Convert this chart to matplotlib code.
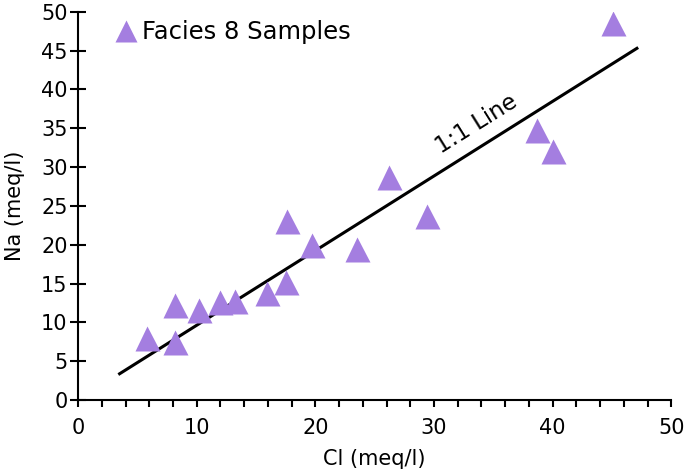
import matplotlib.pyplot as plt
from matplotlib.ticker import MultipleLocator

# Facies 8 samples: Cl vs Na (meq/l)
cl = [5.8, 8.2, 8.2, 10.2, 12.0, 13.2, 15.9, 17.5, 17.6, 19.7, 23.5, 26.2, 29.4, 38.7, 40.0, 45.1]
na = [8.0, 7.5, 12.2, 11.6, 12.6, 12.8, 13.8, 15.2, 23.1, 20.0, 19.5, 28.7, 23.7, 34.8, 32.1, 48.6]

# 1:1 line end points as drawn
line_x = [3.5, 47.1]
line_y = [3.4, 45.3]

purple = '#a47ee0'

fig = plt.figure(figsize=(6.85, 4.73), dpi=100)
ax = fig.add_axes([0.114, 0.154, 0.866, 0.821])

ax.plot(line_x, line_y, color='black', lw=2.2, zorder=2)
ax.plot(cl, na, '^', color=purple, ms=18, mec='none', zorder=3, label='Facies 8 Samples')

ax.text(33.6, 35.6, '1:1 Line', fontsize=16.5, rotation=32, ha='center', va='center')

ax.set_xlim(0, 50)
ax.set_ylim(0, 50)
ax.xaxis.set_major_locator(MultipleLocator(10))
ax.xaxis.set_minor_locator(MultipleLocator(2))
ax.yaxis.set_major_locator(MultipleLocator(5))

for s in ['top', 'right']:
    ax.spines[s].set_visible(False)
for s in ['left', 'bottom']:
    ax.spines[s].set_linewidth(1.5)

ax.tick_params(axis='y', direction='inout', length=11, width=1.5, labelsize=15, pad=2)
ax.tick_params(axis='x', which='major', direction='out', length=5, width=1.5, labelsize=15, pad=8)
ax.tick_params(axis='x', which='minor', direction='out', length=5, width=1.5)

ax.set_xlabel('Cl (meq/l)', fontsize=15, labelpad=8)
ax.set_ylabel('Na (meq/l)', fontsize=15, labelpad=12)

ax.legend(loc='upper left', bbox_to_anchor=(0.03, 1.035), frameon=False, fontsize=17.5,
          markerscale=0.9, handlelength=0.7, handletextpad=0.3)

fig.savefig('out.png', dpi=100)
